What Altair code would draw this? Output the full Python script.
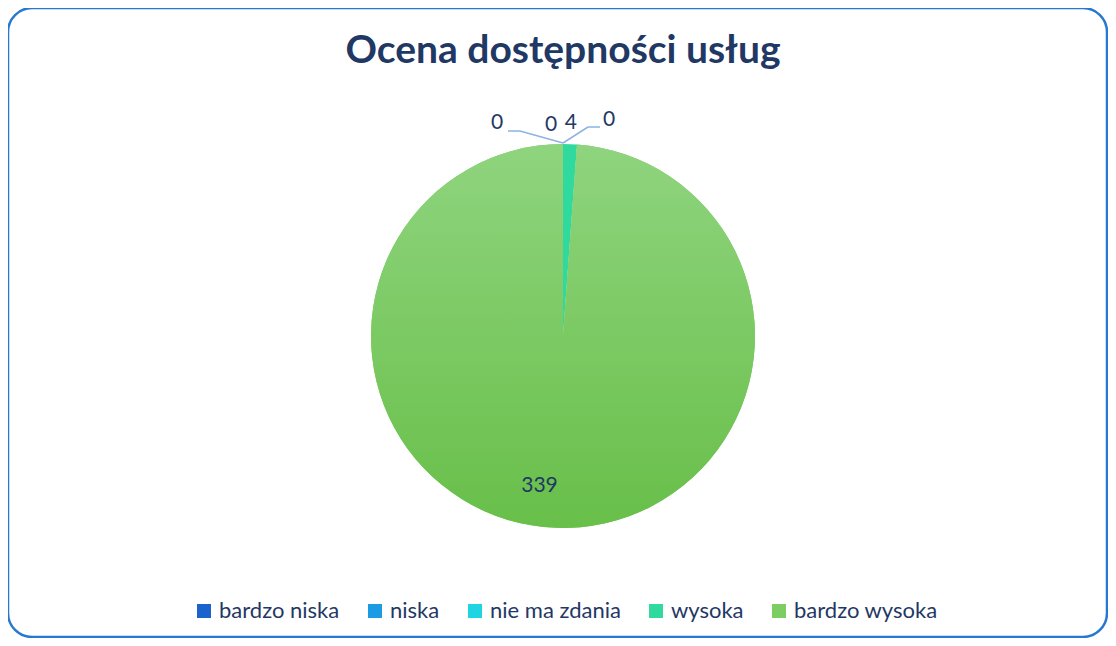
import altair as alt
import pandas as pd

# ---- data ----
categories = ["bardzo niska", "niska", "nie ma zdania", "wysoka", "bardzo wysoka"]
values = [0, 0, 0, 4, 339]
colors = ["#1a62cc", "#1b9be3", "#1fd5e2", "#30d99d", "#7ccd62"]
title_text = ["Ocena dostępności usług"]

df = pd.DataFrame({"kategoria": categories, "liczba": values, "idx": list(range(len(categories)))})
title_df = pd.DataFrame({"t": title_text})
one = pd.DataFrame({"k": [0]})

# ---- layout constants (styling) ----
CX, CY, R = 555, 328, 192
TXT = "#1f3864"
FONT = "Lato"

color_scale = alt.Scale(domain=categories, range=colors)

base = alt.Chart(df)

pie = base.mark_arc(radius=R).encode(
    theta=alt.Theta("liczba:Q", stack=True),
    color=alt.Color(
        "kategoria:N",
        scale=color_scale,
        sort=categories,
        legend=alt.Legend(
            title=None,
            orient="none",
            legendX=185,
            legendY=592,
            direction="horizontal",
            symbolType="square",
            symbolSize=196,
            symbolStrokeWidth=0,
            symbolOpacity=1,
            labelFont=FONT,
            labelFontSize=22,
            labelColor=TXT,
            labelOffset=4,
            columnPadding=24,
        ),
    ),
    order=alt.Order("idx:Q"),
    x=alt.value(CX),
    y=alt.value(CY),
)

gradient = {
    "gradient": "linear",
    "x1": 0, "y1": 0, "x2": 0, "y2": 1,
    "stops": [
        {"offset": 0, "color": "#8fd47e"},
        {"offset": 1, "color": "#68bf49"},
    ],
}

pie_grad = base.mark_arc(radius=R).encode(
    theta=alt.Theta("liczba:Q", stack=True),
    fill=alt.condition("datum.kategoria == 'bardzo wysoka'", alt.value(gradient), alt.value("transparent")),
    order=alt.Order("idx:Q"),
    x=alt.value(CX),
    y=alt.value(CY),
)

lab_base = (
    base.transform_joinaggregate(total="sum(liczba)")
    .transform_window(cum="sum(liczba)", sort=[alt.SortField("idx")])
    .transform_calculate(ang="2*PI*(datum.cum - datum.liczba/2)/datum.total")
)

# label placement: (radius, dx, dy)
placement = {
    "bardzo niska": (213, -66, 0),
    "niska": (213, -12, 2),
    "nie ma zdania": (213, 46, -3),
    "wysoka": (213, 0, 0),
    "bardzo wysoka": (150, -18, 0),
}

label_layers = []
for cat in categories:
    r, dx, dy = placement[cat]
    label_layers.append(
        lab_base.transform_filter(alt.datum.kategoria == cat)
        .mark_text(radius=r, dx=dx, dy=dy, font=FONT, fontSize=21, color=TXT, align="center", baseline="middle")
        .encode(
            theta=alt.Theta("ang:Q", scale=None),
            text=alt.Text("liczba:Q"),
            x=alt.value(CX),
            y=alt.value(CY),
        )
    )

leader_color = "#8db3e2"
segments = [
    (500, 123, 512, 123),
    (512, 123, 555, 135),
    (555, 135, 580, 119),
    (580, 119, 592, 119),
]
leaders = [
    alt.Chart(one).mark_rule(color=leader_color, strokeWidth=1.5).encode(
        x=alt.value(a), y=alt.value(b), x2=alt.value(c), y2=alt.value(d)
    )
    for a, b, c, d in segments
]

title = alt.Chart(title_df).mark_text(
    font=FONT, fontSize=39, fontWeight="bold", color=TXT, align="center", baseline="alphabetic"
).encode(text="t:N", x=alt.value(CX), y=alt.value(55))

border = alt.Chart(one).mark_rect(
    fill="transparent", stroke="#2778cf", strokeWidth=2.5, cornerRadius=24
).encode(x=alt.value(0), y=alt.value(0), x2=alt.value(1099), y2=alt.value(629))

chart = (
    alt.layer(pie, pie_grad, *label_layers, *leaders, title, border)
    .resolve_scale(theta="independent")
    .properties(width=1100, height=630, padding=0, autosize=alt.AutoSizeParams(type="none"), background="white")
    .configure_view(stroke=None)
)

chart.save("out.html", embed_options={"renderer": "svg", "actions": False})
